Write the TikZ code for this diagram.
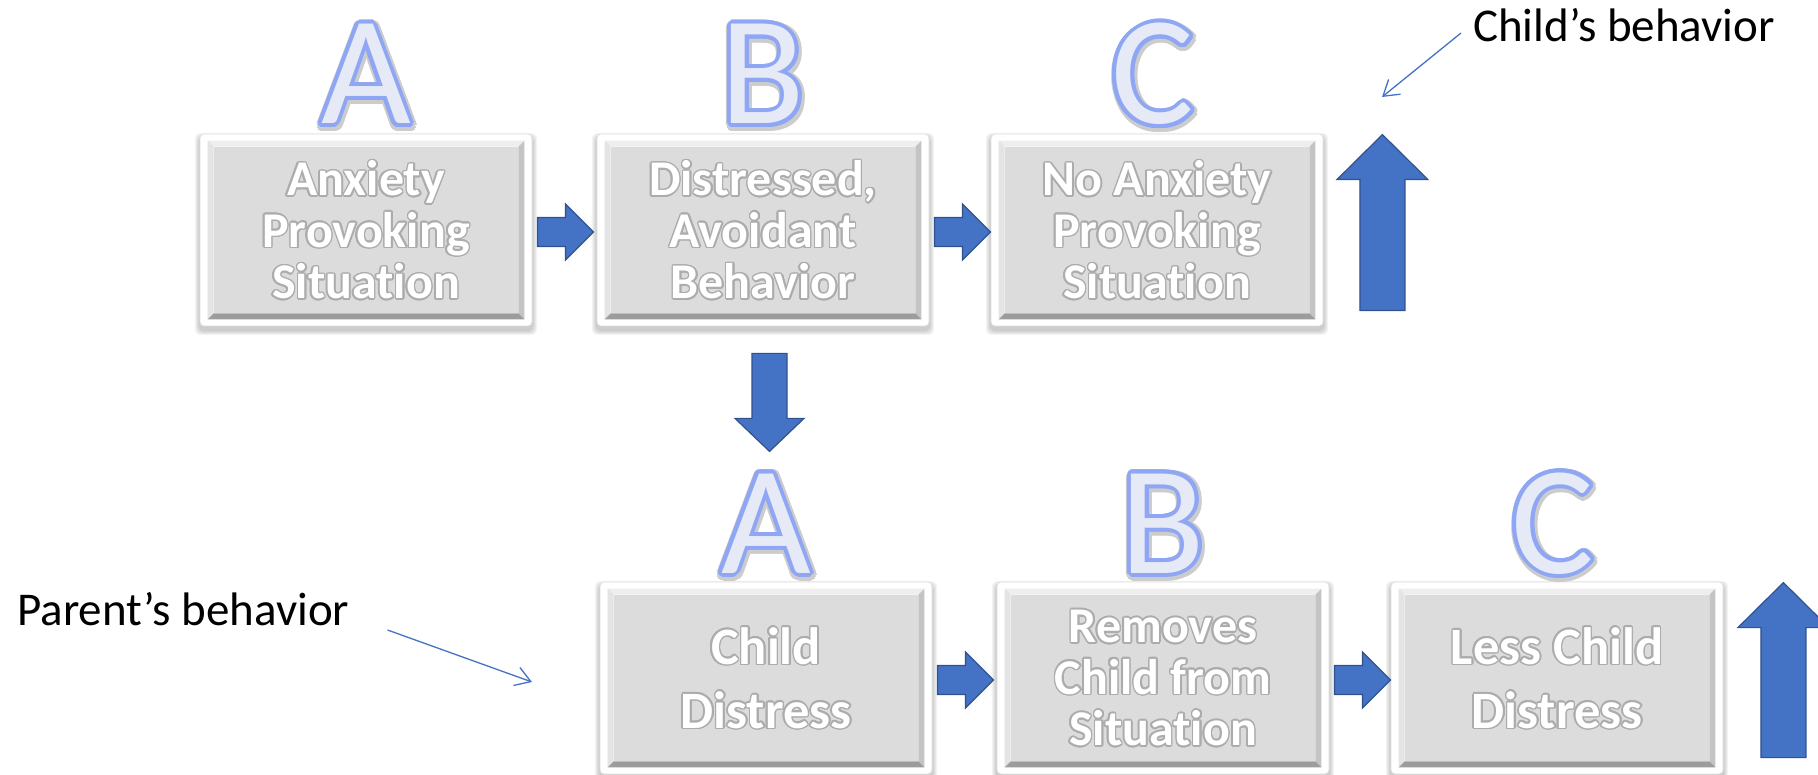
\documentclass[tikz,border=0pt]{standalone}
\usepackage{fontspec}
\setmainfont{Carlito}[Ligatures=NoCommon]
\usetikzlibrary{calc,arrows.meta}

\definecolor{arrowblue}{HTML}{4472C4}
\definecolor{arrowedge}{HTML}{2F528F}
\definecolor{letterfill}{HTML}{E6EAF7}
\definecolor{letteredge}{HTML}{8EA6F4}
\definecolor{face}{HTML}{DCDCDC}
\definecolor{bevtop}{HTML}{EEEEEE}
\definecolor{bevleft}{HTML}{E4E4E4}
\definecolor{bevright}{HTML}{C4C4C4}
\definecolor{bevbottom}{HTML}{9C9C9C}

\pgfdeclarelayer{background}
\pgfsetlayers{background,main}

% text with a ring of copies around it: #1 ring colour, #2 radius (pt), #3 fill colour, #4 text
\newcommand\ringtext[4]{%
  \leavevmode\rlap{\color{#1}\foreach \a in {0,22.5,...,337.5}{%
    \pgfmathsetmacro\ox{#2*cos(\a)}\pgfmathsetmacro\oy{#2*sin(\a)}%
    \rlap{\hspace*{\ox pt}\raisebox{\oy pt}{#4}}}}%
  \textcolor{#3}{#4}}

% large outlined letter with a soft grey rim
\newcommand\capletter[1]{%
  \rlap{\hspace*{1pt}\raisebox{-2pt}{\ringtext{gray!40}{6}{gray!40}{#1}}}%
  \ringtext{letteredge}{4}{letterfill}{#1}}

% white panel text with a grey halo
\newcommand\wl[1]{\ringtext{gray!65}{1.6}{white}{#1}}

\tikzset{
  panelframe/.style={draw=gray!25, line width=0.8pt, fill=white, rounded corners=4pt,
    minimum width=332pt, minimum height=192pt, inner sep=0pt},
  paneltext/.style={align=center, inner sep=0pt},
  letter/.style={anchor=base, inner sep=0pt, font=\fontsize{155}{155}\selectfont},
  blockarrow/.style={fill=arrowblue, draw=arrowedge, line width=1.2pt, line join=miter},
  note/.style={inner sep=0pt, font=\fontsize{47}{56}\selectfont},
  pointer/.style={draw=arrowblue, line width=1.3pt,
    -{Straight Barb[length=15pt, width=19pt]}},
}

% bevelled panel: #1 name, #2 x, #3 y, #4 font, #5 text
\newcommand\panel[5]{%
  \node[panelframe] (#1) at (#2,#3) {};
  \begin{pgfonlayer}{background}
    \foreach \k in {1,...,6}
      \fill[black, opacity=0.035, rounded corners=6pt]
        ([shift={(-0.8*\k,4-0.8*\k)}]#1.north west) rectangle
        ([shift={(0.8*\k,4+0.8*\k)}]#1.south east);
  \end{pgfonlayer}
  \fill[bevtop] ([shift={(8,7)}]#1.north west) -- ([shift={(-8,7)}]#1.north east)
    -- ([shift={(-14,13)}]#1.north east) -- ([shift={(14,13)}]#1.north west) -- cycle;
  \fill[bevleft] ([shift={(8,7)}]#1.north west) -- ([shift={(14,13)}]#1.north west)
    -- ([shift={(14,-13)}]#1.south west) -- ([shift={(8,-7)}]#1.south west) -- cycle;
  \fill[bevright] ([shift={(-8,7)}]#1.north east) -- ([shift={(-8,-7)}]#1.south east)
    -- ([shift={(-14,-13)}]#1.south east) -- ([shift={(-14,13)}]#1.north east) -- cycle;
  \fill[bevbottom] ([shift={(8,-7)}]#1.south west) -- ([shift={(-8,-7)}]#1.south east)
    -- ([shift={(-14,-13)}]#1.south east) -- ([shift={(14,-13)}]#1.south west) -- cycle;
  \fill[face] ([shift={(14,13)}]#1.north west) rectangle ([shift={(-14,-13)}]#1.south east);
  \node[paneltext, font=#4] (#1-text) at (#1) {#5};
}

\begin{document}
\begin{tikzpicture}[x=1pt,y=-1pt]
\useasboundingbox (0,0) rectangle (1818,775);

% child's chain
\panel{sit}{366}{230}{\fontsize{50}{51.5}\selectfont\bfseries}{\wl{Anxiety}\\\wl{Provoking}\\\wl{Situation}}
\panel{avoid}{763}{230}{\fontsize{50}{51.5}\selectfont\bfseries}{\wl{Distressed,}\\\wl{Avoidant}\\\wl{Behavior}}
\panel{relief}{1157}{230}{\fontsize{50}{51.5}\selectfont\bfseries}{\wl{No Anxiety}\\\wl{Provoking}\\\wl{Situation}}

\node[letter] (la) at (366,124) {\capletter{A}};
\node[letter] (lb) at (763,124) {\capletter{B}};
\node[letter] (lc) at (1153,124) {\capletter{C}};

% parent's chain
\panel{cdist}{766}{678}{\fontsize{52.5}{64}\selectfont\bfseries}{\wl{Child}\\\wl{Distress}}
\panel{removes}{1163}{678}{\fontsize{50}{51.5}\selectfont\bfseries}{\wl{Removes}\\\wl{Child from}\\\wl{Situation}}
\panel{less}{1557}{678}{\fontsize{52.5}{64}\selectfont\bfseries}{\wl{Less Child}\\\wl{Distress}}

\node[letter] (ma) at (766,573) {\capletter{A}};
\node[letter] (mb) at (1163,573) {\capletter{B}};
\node[letter] (mc) at (1553,573) {\capletter{C}};

% block arrows between panels
\draw[blockarrow] ([shift={(5,2)}]sit.east) ++(0,-14.5) -- ++(28,0) -- ++(0,-13.5)
  -- ++(28,28) -- ++(-28,28) -- ++(0,-13.5) -- ++(-28,0) -- cycle;
\draw[blockarrow] ([shift={(5,2)}]avoid.east) ++(0,-14.5) -- ++(28,0) -- ++(0,-13.5)
  -- ++(28,28) -- ++(-28,28) -- ++(0,-13.5) -- ++(-28,0) -- cycle;
\draw[blockarrow] ([shift={(5,2)}]cdist.east) ++(0,-14.5) -- ++(28,0) -- ++(0,-13.5)
  -- ++(28,28) -- ++(-28,28) -- ++(0,-13.5) -- ++(-28,0) -- cycle;
\draw[blockarrow] ([shift={(5,2)}]removes.east) ++(0,-14.5) -- ++(28,0) -- ++(0,-13.5)
  -- ++(28,28) -- ++(-28,28) -- ++(0,-13.5) -- ++(-28,0) -- cycle;

% from the child's behaviour down to the parent's chain
\draw[blockarrow] ([shift={(6.5,27)}]avoid.south) ++(-17.5,0) -- ++(35,0) -- ++(0,65)
  -- ++(17,0) -- ++(-34.5,33) -- ++(-34.5,-33) -- ++(17,0) -- cycle;

% "increase" arrows beside the last panels
\draw[blockarrow] ([shift={(59,1)}]relief.north east) -- ++(45.5,45) -- ++(-23,0)
  -- ++(0,131) -- ++(-45,0) -- ++(0,-131) -- ++(-23,0) -- cycle;
\draw[blockarrow] ([shift={(60,1)}]less.north east) -- ++(45.5,45) -- ++(-23,0)
  -- ++(0,130) -- ++(-45,0) -- ++(0,-130) -- ++(-23,0) -- cycle;

% annotations
\node[note, anchor=base west] (childnote) at (1473,42) {Child’s behavior};
\node[note, anchor=base west] (parentnote) at (17,625) {Parent’s behavior};
\coordinate (childtip) at (1382,97);
\coordinate (parenttip) at (532,682);
\draw[pointer] ([shift={(-12,-9)}]childnote.base west) -- (childtip);
\draw[pointer] ([shift={(38,5)}]parentnote.base east) -- (parenttip);
\end{tikzpicture}
\end{document}
